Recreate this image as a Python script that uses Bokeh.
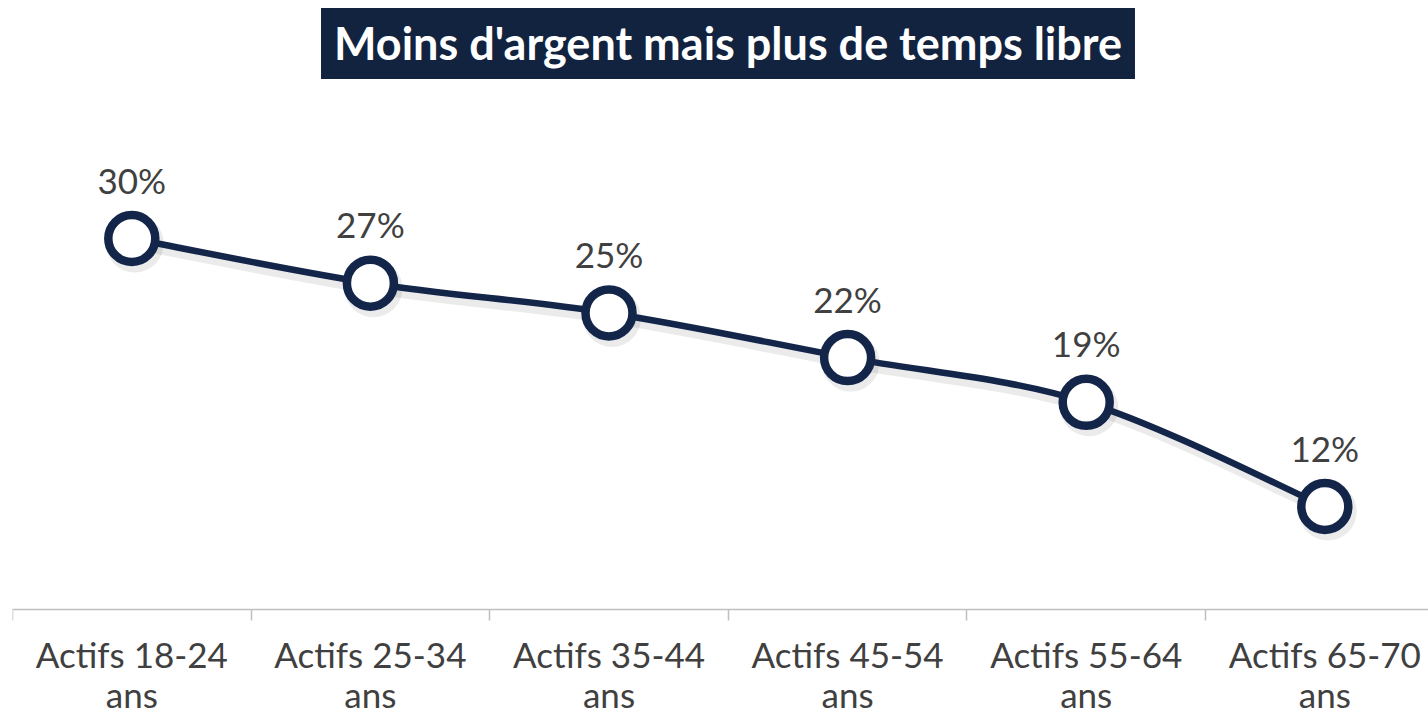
from bokeh.plotting import figure
from bokeh.models import Range1d, FixedTicker, Label, ColumnDataSource
from bokeh.core.properties import value
from bokeh.embed import file_html
from bokeh.resources import INLINE

# ---- data ----
categories = ["Actifs 18-24 ans", "Actifs 25-34 ans", "Actifs 35-44 ans",
              "Actifs 45-54 ans", "Actifs 55-64 ans", "Actifs 65-70 ans"]
values = [30, 27, 25, 22, 19, 12]
value_labels = ["30%", "27%", "25%", "22%", "19%", "12%"]
title_text = "Moins d'argent mais plus de temps libre"

NAVY = "#13264A"
GREY_TEXT = "#404040"

W, H = 1428, 714
left_border = 12
frame_w = W - left_border
frame_h = H
px_per_cat = 238.6
px_per_pct = 14.889
y_top = 45.985
axis_at = 5.05

xs = list(range(len(categories)))
x0 = -0.5
x1 = x0 + frame_w / px_per_cat
y1 = y_top
y0 = y_top - frame_h / px_per_pct

p = figure(width=W, height=H, output_backend="svg", toolbar_location=None,
           x_range=Range1d(x0, x1), y_range=Range1d(y0, y1),
           min_border_left=left_border, min_border_right=0,
           min_border_top=0, min_border_bottom=0)
p.outline_line_color = None
p.background_fill_color = "white"
p.border_fill_color = "white"
p.xgrid.visible = False
p.ygrid.visible = False
p.yaxis.visible = False

# x axis: labels at category centres, tick marks at the boundaries
ax = p.xaxis[0]
ax.fixed_location = axis_at
ax.ticker = FixedTicker(ticks=xs, minor_ticks=[i - 0.5 for i in range(len(categories) + 1)])
ax.major_label_overrides = {i: c.rsplit(" ", 1)[0] + "\n" + c.rsplit(" ", 1)[1]
                            for i, c in enumerate(categories)}
ax.major_tick_in = 0
ax.major_tick_out = 0
ax.minor_tick_in = 0
ax.minor_tick_out = 11
ax.minor_tick_line_color = "#BFBFBF"
ax.minor_tick_line_width = 1.5
ax.axis_line_color = "#BFBFBF"
ax.axis_line_width = 1.5
ax.major_label_text_font = "Lato"
ax.major_label_text_font_size = "35px"
ax.major_label_text_color = GREY_TEXT
ax.major_label_standoff = 12
ax.major_label_text_line_height = 0.95

# smoothed line (Catmull-Rom -> cubic Bezier), built from the data
n = len(xs)
def pt(i):
    i = max(0, min(n - 1, i))
    return xs[i], values[i]
bx0, by0, bx1, by1, cx0, cy0, cx1, cy1 = [], [], [], [], [], [], [], []
for i in range(n - 1):
    pa, pb, pc, pd = pt(i - 1), pt(i), pt(i + 1), pt(i + 2)
    bx0.append(pb[0]); by0.append(pb[1])
    bx1.append(pc[0]); by1.append(pc[1])
    cx0.append(pb[0] + (pc[0] - pa[0]) / 6); cy0.append(pb[1] + (pc[1] - pa[1]) / 6)
    cx1.append(pc[0] - (pd[0] - pb[0]) / 6); cy1.append(pc[1] - (pd[1] - pb[1]) / 6)
curve = ColumnDataSource(dict(x0=bx0, y0=by0, x1=bx1, y1=by1,
                              cx0=cx0, cy0=cy0, cx1=cx1, cy1=cy1))
pts = ColumnDataSource(dict(x=xs, y=values, lab=value_labels))

# soft shadow via shifted ranges
p.extra_x_ranges = {"sh": Range1d(x0 - 3 / px_per_cat, x1 - 3 / px_per_cat)}
p.extra_y_ranges = {"sh": Range1d(y0 + 5 / px_per_pct, y1 + 5 / px_per_pct)}
p.bezier(x0="x0", y0="y0", x1="x1", y1="y1", cx0="cx0", cy0="cy0", cx1="cx1", cy1="cy1",
         source=curve, line_color="#000000", line_alpha=0.08, line_width=12,
         x_range_name="sh", y_range_name="sh")
p.scatter(x="x", y="y", source=pts, size=58, fill_color="#000000", fill_alpha=0.08,
          line_color=None, x_range_name="sh", y_range_name="sh")

p.bezier(x0="x0", y0="y0", x1="x1", y1="y1", cx0="cx0", cy0="cy0", cx1="cx1", cy1="cy1",
         source=curve, line_color=NAVY, line_width=6.5, line_cap="round")
p.scatter(x="x", y="y", source=pts, size=47, fill_color="white",
          line_color=NAVY, line_width=8.5)

p.text(x="x", y="y", text="lab", source=pts, text_align="center",
       text_baseline="middle", y_offset=-59, text_font=value("Lato"),
       text_font_size="35px", text_color=GREY_TEXT)

# title box
title = Label(x=727.5 - left_border, y=frame_h - 43, x_units="screen", y_units="screen",
              text=title_text, text_align="center", text_baseline="middle",
              text_font="Lato", text_font_style="bold", text_font_size="45px",
              text_color="white", background_fill_color="#12233F",
              padding=dict(left=13, right=13, top=8, bottom=9))
p.add_layout(title)

open("out.html", "w").write(file_html(p, INLINE))
